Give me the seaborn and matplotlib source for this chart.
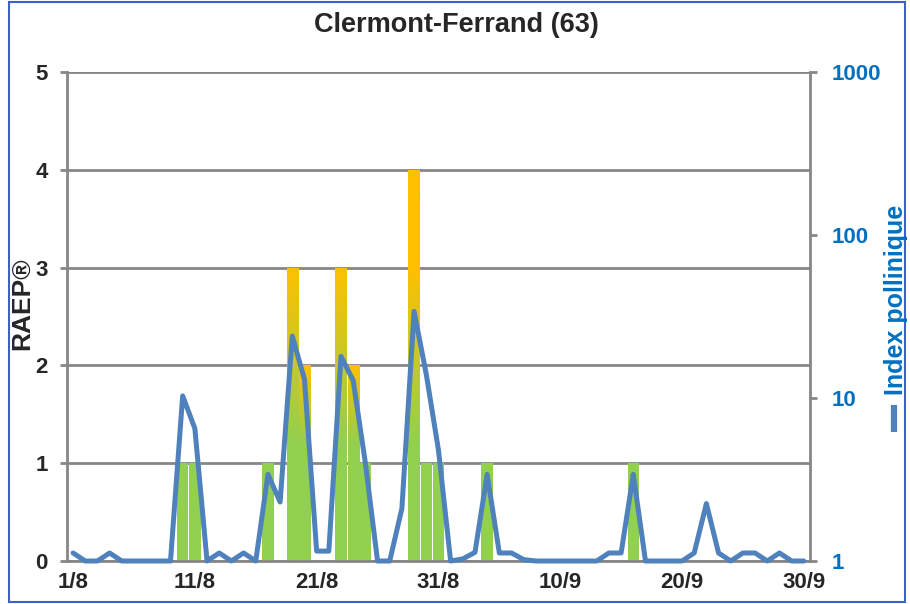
import numpy as np
import pandas as pd
import seaborn as sns
import matplotlib.pyplot as plt
from matplotlib.colors import to_rgb
from matplotlib.lines import Line2D
from matplotlib.patches import Rectangle

# day labels, 1 August -> 30 September
days = [f"{d}/8" for d in range(1, 32)] + [f"{d}/9" for d in range(1, 31)]
label_days = ["1/8", "11/8", "21/8", "31/8", "10/9", "20/9", "30/9"]

# RAEP (risque allergique), 0-5
raep = [0, 0, 0, 0, 0, 0, 0, 0, 0, 1,
        1, 0, 0, 0, 0, 0, 1, 0, 3, 2,
        0, 0, 3, 2, 1, 0, 0, 0, 4, 1,
        1, 0, 0, 0, 1, 0, 0, 0, 0, 0,
        0, 0, 0, 0, 0, 0, 1, 0, 0, 0,
        0, 0, 0, 0, 0, 0, 0, 0, 0, 0,
        0]

# index pollinique (log scale)
pollen = [1.12, 1, 1, 1.12, 1, 1, 1, 1, 1, 10.3,
          6.5, 1, 1.12, 1, 1.12, 1, 3.4, 2.3, 24, 13,
          1.15, 1.15, 18, 12.8, 4, 1, 1, 2.1, 34, 14,
          4.8, 1, 1.03, 1.13, 3.4, 1.12, 1.12, 1.02, 1, 1,
          1, 1, 1, 1, 1.12, 1.12, 3.4, 1, 1, 1,
          1, 1.12, 2.25, 1.12, 1, 1.12, 1.12, 1, 1.12, 1,
          1]

green = "#92D050"
orange = "#FFC000"
blue_line = "#4F81BD"
blue_text = "#0070C0"
grey = "#868686"

sns.set_style("white")
plt.rcParams['font.family'] = ['Liberation Sans', 'DejaVu Sans']
plt.rcParams['font.weight'] = 'bold'

df = pd.DataFrame({"pos": np.arange(len(days)), "raep": raep, "pollen": pollen})

fig = plt.figure(figsize=(9.1, 6.04), dpi=100)
ax = fig.add_axes([0.0736, 0.0712, 0.8164, 0.8096])

sns.barplot(data=df, x="pos", y="raep", color=green, saturation=1,
            width=0.93, errorbar=None, linewidth=0, ax=ax, zorder=2)

# green -> orange gradient on the higher bars
g = np.array(to_rgb(green))
o = np.array(to_rgb(orange))
for bar in list(ax.patches):
    top = bar.get_height()
    if top < 2:
        continue
    yy = np.linspace(0, top, 300)
    t = np.clip((yy - 1.2) / (min(top, 3) - 1.2), 0, 1)
    img = g[None, :] * (1 - t[:, None]) + o[None, :] * t[:, None]
    im = ax.imshow(img[:, None, :], origin="lower", aspect="auto",
                   extent=[bar.get_x(), bar.get_x() + bar.get_width(), 0, top],
                   zorder=2.5, interpolation="bilinear")
    im.set_clip_path(bar)

ax.set_xlim(-0.5, len(days) - 0.5)
ax.set_ylim(0, 5)
ax.set_yticks(range(0, 6))
ax.set_axisbelow(True)
ax.grid(axis="y", color=grey, lw=2)
ax.grid(axis="x", visible=False)

ax.set_xticks([days.index(d) for d in label_days])
ax.set_xticklabels(label_days)
ax.set_xticks(np.arange(-0.5, len(days), 1), minor=True)
ax.tick_params(axis="x", which="major", length=0, pad=8, labelsize=16)
ax.tick_params(axis="x", which="minor", length=5, width=2, color=grey, direction="out")
ax.tick_params(axis="y", length=5, width=2, color=grey, direction="out",
               pad=9, labelsize=16, left=True)
ax.set_xlabel("")
ax.set_ylabel("")
for side in ["left", "bottom"]:
    ax.spines[side].set_color(grey)
    ax.spines[side].set_linewidth(2)
ax.spines["top"].set_visible(False)
ax.spines["right"].set_visible(False)

ax2 = ax.twinx()
sns.lineplot(data=df, x="pos", y="pollen", ax=ax2, color=blue_line,
             linewidth=3.6, zorder=5)
ax2.lines[0].set_clip_on(False)
ax2.lines[0].set_solid_joinstyle("round")
ax2.set_yscale("log")
ax2.set_ylim(1, 1000)
ax2.set_xlim(-0.5, len(days) - 0.5)
ax2.set_yticks([1, 10, 100, 1000])
ax2.set_yticklabels(["1", "10", "100", "1000"])
ax2.minorticks_off()
ax2.tick_params(axis="y", length=5, width=2, color=grey, direction="out",
                pad=11, labelsize=16, labelcolor=blue_text, right=True)
ax2.set_ylabel("")
ax2.set_xlabel("")
for side in ["left", "top", "bottom"]:
    ax2.spines[side].set_visible(False)
ax2.spines["right"].set_color(grey)
ax2.spines["right"].set_linewidth(2)

fig.text(0.502, 0.958, "Clermont-Ferrand (63)", ha="center", va="center",
         fontsize=19.5, fontweight="bold")
fig.text(0.024, 0.497, "RAEP®", rotation=90, ha="center", va="center",
         fontsize=19, fontweight="bold")
fig.text(0.985, 0.503, "Index pollinique", rotation=90, ha="center",
         va="center", fontsize=18, fontweight="bold", color=blue_text)
fig.add_artist(Line2D([0.982, 0.982], [0.285, 0.33], transform=fig.transFigure,
                      color=blue_line, lw=4.5, solid_capstyle="butt"))
fig.add_artist(Rectangle((0.0099, 0.0033), 0.9846, 0.9934, transform=fig.transFigure,
                         fill=False, edgecolor="#3F5FD0", lw=1.5))

fig.savefig("out.png", dpi=100)
